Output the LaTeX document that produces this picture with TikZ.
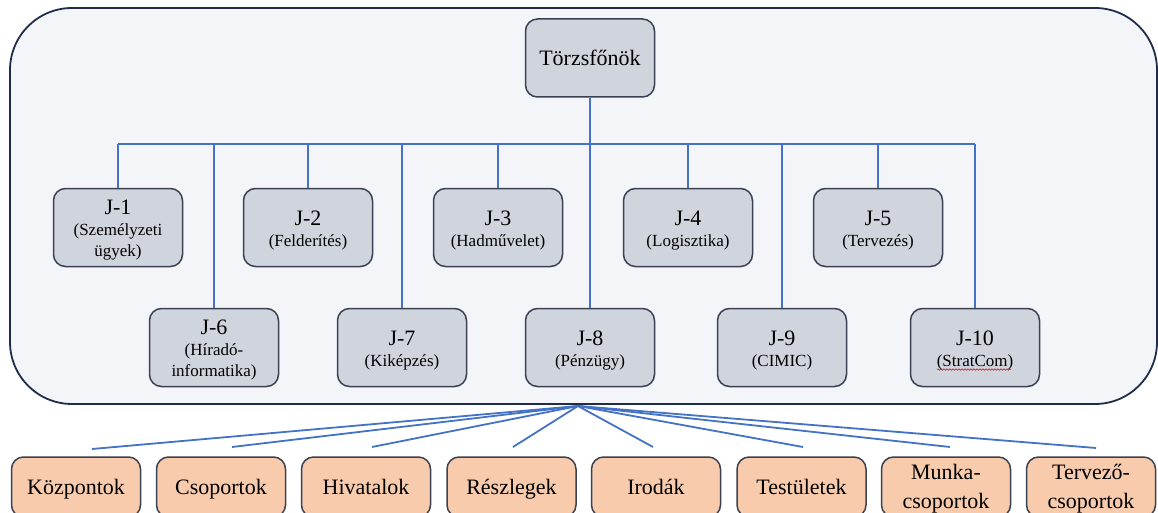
\documentclass[tikz,border=0pt]{standalone}
\usepackage{fontspec}
\setmainfont{Liberation Serif}
\usetikzlibrary{calc,decorations.pathmorphing}

\definecolor{panelfill}{HTML}{F3F5F8}
\definecolor{paneldraw}{HTML}{1F2D4A}
\definecolor{unitfill}{HTML}{D0D5DD}
\definecolor{unitdraw}{HTML}{3A4152}
\definecolor{formfill}{HTML}{F8CBAD}
\definecolor{linkblue}{HTML}{4472C4}

% directorate label: large code, smaller name below
\newcommand{\jlbl}[2]{\rule{0pt}{22pt}{\fontsize{22}{21}\selectfont #1}\\#2\rule[-6pt]{0pt}{6pt}}
% label of an organisational form, fixed height and depth
\newcommand{\flbl}[1]{\rule{0pt}{20pt}#1\rule[-6pt]{0pt}{6pt}}

\tikzset{
  panel/.style={draw=paneldraw, line width=1.8pt, fill=panelfill,
    rounded corners=62pt, minimum width=1147pt, minimum height=396pt, inner sep=0pt},
  unit/.style={draw=unitdraw, line width=1.5pt, fill=unitfill,
    rounded corners=12pt, minimum width=129pt, minimum height=78pt,
    inner sep=0pt, align=center, font=\fontsize{17}{21}\selectfont},
  form/.style={draw=unitdraw, line width=1.5pt, fill=formfill,
    rounded corners=12pt, minimum width=129pt, minimum height=60pt,
    inner sep=0pt, align=center, font=\fontsize{22}{29}\selectfont},
  link/.style={draw=linkblue, line width=1.8pt},
}

\begin{document}
\begin{tikzpicture}[x=1pt,y=-1pt]
\useasboundingbox (0,0) rectangle (1158,513);
\fill[white] (0,0) rectangle (1158,513);

% staff panel
\node[panel] (staff) at (583.5,206) {};

% chief of staff
\node[unit, font=\fontsize{22}{24}\selectfont] (chief) at (590,58) {Törzsfőnök};

% directorates, upper row
\node[unit] (j1) at (118,227.5) {\jlbl{J-1}{(Személyzeti\\ügyek)}};
\node[unit] (j2) at (308,227.5) {\jlbl{J-2}{(Felderítés)}};
\node[unit] (j3) at (498,227.5) {\jlbl{J-3}{(Hadművelet)}};
\node[unit] (j4) at (688,227.5) {\jlbl{J-4}{(Logisztika)}};
\node[unit] (j5) at (878,227.5) {\jlbl{J-5}{(Tervezés)}};

% directorates, lower row
\node[unit] (j6) at (214,347.5) {\jlbl{J-6}{(Híradó-\\informatika)}};
\node[unit] (j7) at (402,347.5) {\jlbl{J-7}{(Kiképzés)}};
\node[unit] (j8) at (590,347.5) {\jlbl{J-8}{(Pénzügy)}};
\node[unit] (j9) at (782,347.5) {\jlbl{J-9}{(CIMIC)}};
\node[unit] (j10) at (975,347.5) {\jlbl{J-10}{(StratCom)}};

% spell-check squiggle under StratCom
\draw[red!80!black, line width=0.5pt, decorate,
  decoration={snake, amplitude=0.7pt, segment length=3pt}]
  ($(j10.center)+(-38,22)$) -- ($(j10.center)+(36,22)$);

% bus
\coordinate (bus) at (0,144);
\draw[link] (chief.south) -- (chief.south |- bus);
\draw[link] (j1.north |- bus) -- (j10.north |- bus);
\foreach \n in {j1,j2,j3,j4,j5,j6,j7,j8,j9,j10}
  \draw[link] (\n.north) -- (\n.north |- bus);

% organisational forms
\node[form] (f1) at (76,487) {\flbl{Központok}};
\node[form] (f2) at (221,487) {\flbl{Csoportok}};
\node[form] (f3) at (366,487) {\flbl{Hivatalok}};
\node[form] (f4) at (511.5,487) {\flbl{Részlegek}};
\node[form] (f5) at (656,487) {\flbl{Irodák}};
\node[form] (f6) at (801.5,487) {\flbl{Testületek}};
\node[form] (f7) at (946,487) {\flbl{Munka-\\csoportok}};
\node[form] (f8) at (1091,487) {\flbl{Tervező-\\csoportok}};

% fan from the panel
\coordinate (fan) at (578,406);
\coordinate (e1) at (92,449);
\coordinate (e2) at (232,447);
\coordinate (e3) at (372,447);
\coordinate (e4) at (513,447);
\coordinate (e5) at (653,447);
\coordinate (e6) at (803,447);
\coordinate (e7) at (950,447);
\coordinate (e8) at (1096,448);
\foreach \e in {e1,e2,e3,e4,e5,e6,e7,e8}
  \draw[link] (fan) -- (\e);
\end{tikzpicture}
\end{document}
